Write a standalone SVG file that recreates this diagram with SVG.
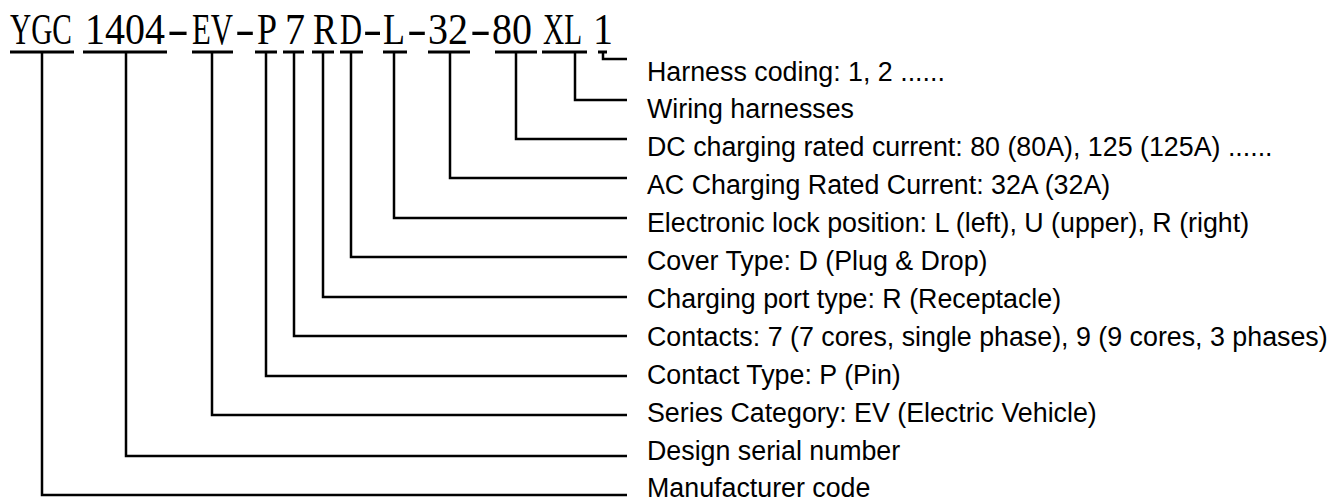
<svg xmlns="http://www.w3.org/2000/svg" width="1342" height="503" viewBox="0 0 1342 503">
<style>
.code{font-family:"Liberation Serif","Times New Roman",serif;font-size:44px;fill:#000}
.lbl{font-family:"Liberation Sans",Arial,sans-serif;font-size:26.8px;fill:#000}
.ul{stroke:#000;stroke-width:3;fill:none}
.cn{stroke:#000;stroke-width:2.5;fill:none;stroke-linejoin:miter;stroke-linecap:butt}
</style>
<rect width="1342" height="503" fill="#fff"/>
<g id="code">
<text class="code" transform="translate(10,44) scale(0.667,1)">YGC</text>
<text class="code" transform="translate(85,44) scale(0.909,1)">1404</text>
<text class="code" transform="translate(167,44) scale(1.5,1)">-</text>
<text class="code" transform="translate(192,44) scale(0.699,1)">EV</text>
<text class="code" transform="translate(235,44) scale(1.365,1)">-</text>
<text class="code" transform="translate(257,44) scale(0.818,1)">P</text>
<text class="code" transform="translate(285,44) scale(0.909,1)">7</text>
<text class="code" transform="translate(313,44) scale(0.818,1)">R</text>
<text class="code" transform="translate(340,44) scale(0.693,1)">D</text>
<text class="code" transform="translate(363,44) scale(1.3,1)">-</text>
<text class="code" transform="translate(383,44) scale(0.818,1)">L</text>
<text class="code" transform="translate(407,44) scale(1.365,1)">-</text>
<text class="code" transform="translate(428,44) scale(0.909,1)">32</text>
<text class="code" transform="translate(470,44) scale(1.43,1)">-</text>
<text class="code" transform="translate(492,44) scale(0.909,1)">80</text>
<text class="code" transform="translate(543,44) scale(0.665,1)">XL</text>
<text class="code" transform="translate(593,44) scale(0.909,1)">1</text>
</g>
<g id="underlines">
<line class="ul" x1="10" y1="52" x2="74" y2="52"/>
<line class="ul" x1="83" y1="52" x2="167" y2="52"/>
<line class="ul" x1="192" y1="52" x2="233" y2="52"/>
<line class="ul" x1="255" y1="52" x2="277" y2="52"/>
<line class="ul" x1="283" y1="52" x2="304" y2="52"/>
<line class="ul" x1="312" y1="52" x2="334" y2="52"/>
<line class="ul" x1="340" y1="52" x2="363" y2="52"/>
<line class="ul" x1="383" y1="52" x2="407" y2="52"/>
<line class="ul" x1="428" y1="52" x2="470" y2="52"/>
<line class="ul" x1="495" y1="52" x2="537" y2="52"/>
<line class="ul" x1="542" y1="52" x2="587" y2="52"/>
<line class="ul" x1="598" y1="52" x2="607" y2="52"/>
</g>
<g id="connectors">
<path class="cn" d="M603 52V59H627"/>
<path class="cn" d="M575 52V100H627"/>
<path class="cn" d="M516 52V139H627"/>
<path class="cn" d="M450 52V178H627"/>
<path class="cn" d="M394 52V218H627"/>
<path class="cn" d="M351 52V257H627"/>
<path class="cn" d="M323 52V297H627"/>
<path class="cn" d="M294 52V336H627"/>
<path class="cn" d="M266 52V376H627"/>
<path class="cn" d="M212 52V415H627"/>
<path class="cn" d="M126 52V456H627"/>
<path class="cn" d="M42 52V495H627"/>
</g>
<g id="n1"><text class="lbl" x="647" y="80.5">Harness coding: 1, 2 ......</text></g>
<g id="n2"><text class="lbl" x="647" y="118.4">Wiring harnesses</text></g>
<g id="n3"><text class="lbl" x="647" y="156.3">DC charging rated current: 80 (80A), 125 (125A) ......</text></g>
<g id="n4"><text class="lbl" x="647" y="194.2">AC Charging Rated Current: 32A (32A)</text></g>
<g id="n5"><text class="lbl" x="647" y="232.1">Electronic lock position: L (left), U (upper), R (right)</text></g>
<g id="n6"><text class="lbl" x="647" y="270">Cover Type: D (Plug &amp; Drop)</text></g>
<g id="n7"><text class="lbl" x="647" y="307.9">Charging port type: R (Receptacle)</text></g>
<g id="n8"><text class="lbl" x="647" y="345.8">Contacts: 7 (7 cores, single phase), 9 (9 cores, 3 phases)</text></g>
<g id="n9"><text class="lbl" x="647" y="383.7">Contact Type: P (Pin)</text></g>
<g id="n10"><text class="lbl" x="647" y="421.6">Series Category: EV (Electric Vehicle)</text></g>
<g id="n11"><text class="lbl" x="647" y="459.5">Design serial number</text></g>
<g id="n12"><text class="lbl" x="647" y="497.4">Manufacturer code</text></g>
</svg>
